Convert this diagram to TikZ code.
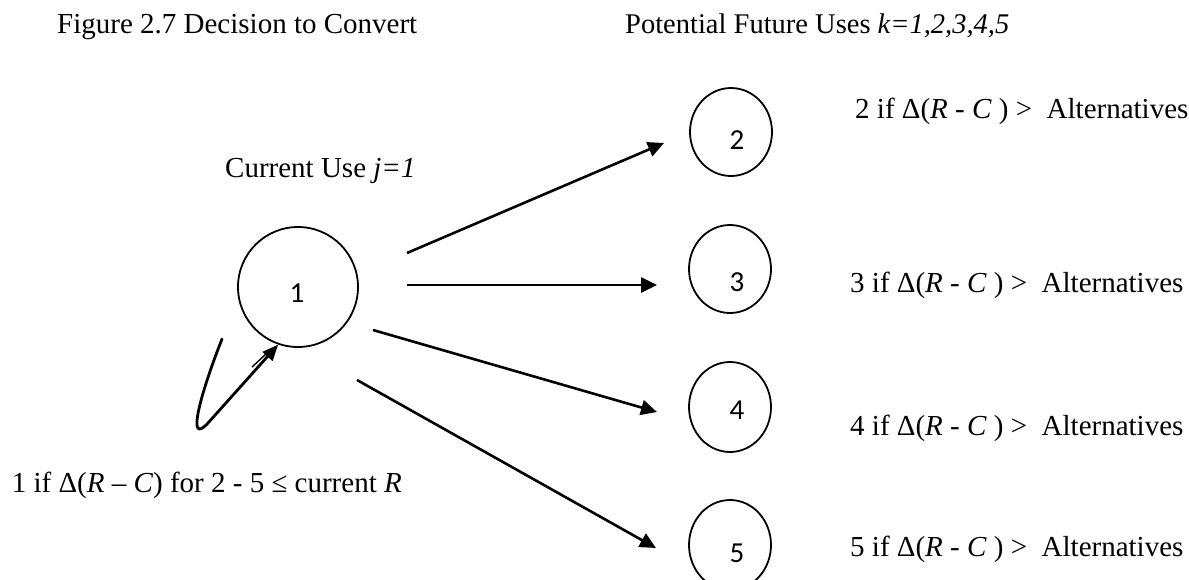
\documentclass[tikz,border=0pt]{standalone}
\usepackage{fontspec}
\setmainfont{Liberation Serif}
\newfontfamily\numfont{Carlito}
\usetikzlibrary{arrows.meta,shapes.geometric}
\begin{document}
\begin{tikzpicture}[x=1pt,y=-1pt,
  lbl/.style={inner sep=0pt,anchor=base west,font=\fontsize{29}{33}\selectfont},
  ring/.style={draw,ellipse,line width=1.8pt,minimum width=82pt,minimum height=88pt,inner sep=0pt},
  num/.style={inner sep=0pt,font=\numfont\fontsize{29}{33}\selectfont},
  arr/.style={line width=2.6pt,-{Triangle[length=16pt,width=15pt]}}]
\useasboundingbox (0,0) rectangle (1189,579);
% titles
\node[lbl] (title) at (57,33) {Figure 2.7 Decision to Convert};
\node[lbl,font=\fontsize{28.5}{33}\selectfont] (future) at (625,33) {Potential Future Uses \textit{k=1,2,3,4,5}};
\node[lbl] (current) at (225,177) {Current Use \textit{j=1}};
% circles
\node[draw,circle,line width=1.8pt,minimum size=120pt,inner sep=0pt] (n1) at (298,287) {};
\node[num] (t1) at (297,293) {1};
\node[ring] (n2) at (731,132) {};
\node[num] (t2) at (737,140) {2};
\node[ring] (n3) at (730,269) {};
\node[num] (t3) at (737,282) {3};
\node[ring,minimum height=90pt] (n4) at (730,407) {};
\node[num] (t4) at (737,410) {4};
\node[ring,minimum height=90pt] (n5) at (730,545) {};
\node[num] (t5) at (737,553) {5};
% right labels
\node[lbl] (l2) at (855,118) {2 if Δ(\textit{R} - \textit{C} ) >\ \ Alternatives};
\node[lbl] (l3) at (850,292) {3 if Δ(\textit{R} - \textit{C} ) >\ \ Alternatives};
\node[lbl] (l4) at (850,435) {4 if Δ(\textit{R} - \textit{C} ) >\ \ Alternatives};
\node[lbl] (l5) at (850,556) {5 if Δ(\textit{R} - \textit{C} ) >\ \ Alternatives};
\node[lbl,anchor=base east] (l1) at (402,492) {1 if Δ(\textit{R} – \textit{C}) for 2 - 5 ≤ current \textit{R}};
% arrow end points
\coordinate (a2s) at (407,253); \coordinate (a2e) at (664,143);
\coordinate (a3s) at (407,285); \coordinate (a3e) at (657,285);
\coordinate (a4s) at (373,330); \coordinate (a4e) at (657,412);
\coordinate (a5s) at (357,380); \coordinate (a5e) at (656,548);
\draw[arr] (a2s) -- (a2e);
\draw[arr] (a3s) -- (a3e);
\draw[arr] (a4s) -- (a4e);
\draw[arr] (a5s) -- (a5e);
% self loop
\coordinate (ls) at (222,339);
\coordinate (lb) at (208,423);
\draw[line width=2.8pt,line cap=round,-{Triangle[length=16pt,width=13pt]}] (ls) .. controls (200,395) and (186,447) .. (lb) -- (n1.251);
\coordinate (ds) at (252,367); \coordinate (de) at (266,354);
\draw[line width=1.4pt] (ds) -- (de);
\end{tikzpicture}
\end{document}
